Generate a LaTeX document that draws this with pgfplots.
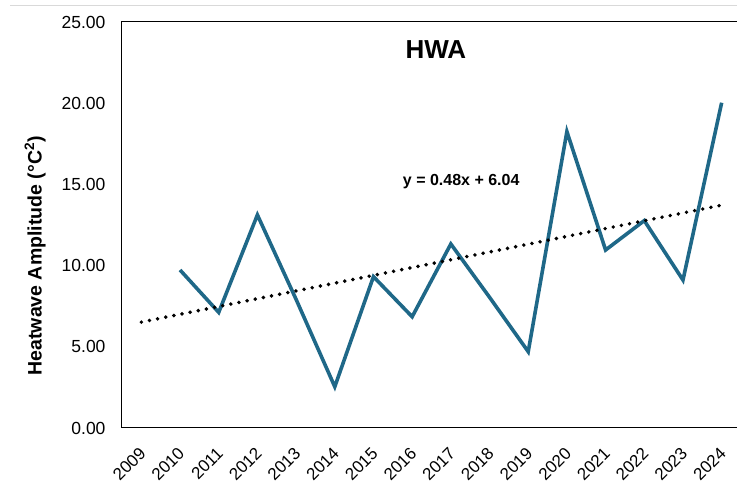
\documentclass[border=0pt]{standalone}
\usepackage{fontspec}
\setmainfont{Liberation Sans}
\usepackage{pgfplots}
\pgfplotsset{compat=1.18}
\definecolor{hwa}{RGB}{31,104,136}
\definecolor{topgrey}{RGB}{217,217,217}
\begin{document}
\begin{tikzpicture}[x=1pt,y=1pt]
\draw[color=topgrey, line width=1pt] (10,480) -- (737,480);
\begin{axis}[
  scale only axis, width=619pt, height=406pt,
  at={(122pt,58pt)}, anchor=south west,
  xmin=-0.5, xmax=15.5, ymin=0, ymax=25,
  xtick={0,1,2,3,4,5,6,7,8,9,10,11,12,13,14,15},
  xticklabels={2009,2010,2011,2012,2013,2014,2015,2016,2017,2018,2019,2020,2021,2022,2023,2024},
  ytick={0,5,10,15,20,25},
  axis line style={line width=1pt, black},
  major tick length=0pt,
  /pgf/number format/assume math mode=true,
  y tick label style={/pgf/number format/fixed, /pgf/number format/fixed zerofill, /pgf/number format/precision=2,
     font=\fontsize{17.5}{20}\selectfont, xshift=-13pt},
  x tick label style={font=\fontsize{17}{20}\selectfont, xshift=-3pt, yshift=-18pt, rotate=45, anchor=north east, inner sep=0pt},
  ylabel={\bfseries Heatwave Amplitude (°C\textsuperscript{2})},
  ylabel style={font=\fontsize{19.5}{22}\selectfont, at={(axis description cs:-0.1405,0.424)}, anchor=center},
  clip=false,
]
\addplot[hwa, line width=3.6pt] coordinates {
  (1,9.73) (2,7.12) (3,13.12) (4,7.92) (5,2.54) (6,9.32) (7,6.85) (8,11.33)
  (9,8.05) (10,4.70) (11,18.25) (12,10.96) (13,12.77) (14,9.11) (15,20.03)
};
\addplot[black, line width=3.9pt, line cap=round, dash pattern=on 0pt off 8.3pt] coordinates {(0,6.52) (15,13.72)};
\node[font=\fontsize{26}{30}\selectfont\bfseries] at (axis description cs:0.507,0.932) {HWA};
\node[font=\fontsize{16}{19}\selectfont\bfseries] at (axis description cs:0.548,0.606) {y = 0.48x + 6.04};
\end{axis}
\pgfresetboundingbox
\useasboundingbox (0,0) rectangle (737,486);
\end{tikzpicture}
\end{document}
